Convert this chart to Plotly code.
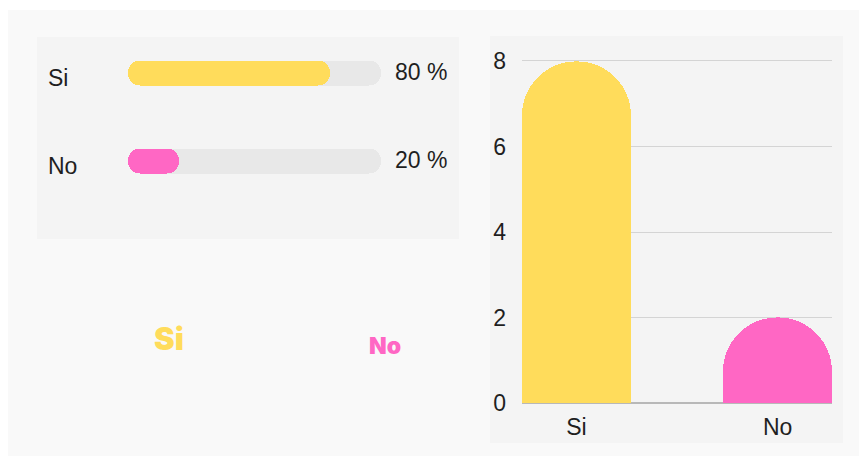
import plotly.graph_objects as go

# Survey answers
categories = ["Si", "No"]
counts = [8, 2]
percents = [80, 20]
colors = ["#FFDC5B", "#FF67C4"]
track = [100, 100]
y_ticks = [0, 2, 4, 6, 8]
y_max = 8.06

W, H = 867, 458
TRACK = "#E8E8E8"
TEXT = "#1F1F1F"
FONT = "Liberation Sans, Arial, sans-serif"
FS = 23


def px(x):
    return x / W


def py(y):
    return 1 - y / H


fig = go.Figure()

# Progress bars (left card): grey track underneath, coloured fill on top.
# An explicit base gives a pill with both ends rounded.
for vals, cols in [(track, [TRACK, TRACK]), (percents, colors)]:
    fig.add_trace(go.Bar(
        y=categories, x=vals, base=[0] * len(vals),
        orientation="h", width=0.284,
        marker=dict(color=cols, cornerradius="50%", line=dict(width=0)),
        xaxis="x", yaxis="y", hoverinfo="skip", showlegend=False,
    ))

# Column chart (right card)
fig.add_trace(go.Bar(
    x=categories, y=counts, width=0.54,
    marker=dict(color=colors, cornerradius="50%", line=dict(width=0)),
    xaxis="x2", yaxis="y2", hoverinfo="skip", showlegend=False,
))

annotations = []
for cat, pct in zip(categories, percents):
    annotations.append(dict(
        x=px(46), y=cat, xref="paper", yref="y", xanchor="left", yanchor="middle",
        text=cat, showarrow=False, yshift=-5, font=dict(family=FONT, size=FS, color=TEXT),
    ))
    annotations.append(dict(
        x=px(393), y=cat, xref="paper", yref="y", xanchor="left", yanchor="middle",
        text=f"{pct} %", showarrow=False, yshift=1, font=dict(family=FONT, size=FS, color=TEXT),
    ))

# Word cloud of the answers
cloud_pos = [(169, 338, 31), (385, 346, 23)]
for cat, col, (cx, cy, size) in zip(categories, colors, cloud_pos):
    annotations.append(dict(
        x=px(cx), y=py(cy), xref="paper", yref="paper", xanchor="center", yanchor="middle",
        text=cat, showarrow=False,
        font=dict(family="Inter, Lato, sans-serif", size=size, color=col, weight=900),
    ))

shapes = [
    dict(type="rect", xref="paper", yref="paper", x0=px(8), x1=px(859), y0=py(456), y1=py(10),
         fillcolor="#F9F9F9", line=dict(width=0), layer="below"),
    dict(type="rect", xref="paper", yref="paper", x0=px(37), x1=px(459), y0=py(239), y1=py(37),
         fillcolor="#F4F4F4", line=dict(width=0), layer="below"),
    dict(type="rect", xref="paper", yref="paper", x0=px(490), x1=px(843), y0=py(443), y1=py(36),
         fillcolor="#F4F4F4", line=dict(width=0), layer="below"),
]

# value 0 sits at y=403 px, value 8 at y=61 px
unit = (403 - 61) / 8
top_px = 403 - unit * y_max

fig.update_layout(
    width=W, height=H,
    margin=dict(l=0, r=0, t=0, b=0, autoexpand=False),
    paper_bgcolor="#FFFFFF", plot_bgcolor="rgba(0,0,0,0)",
    barmode="overlay",
    bargap=0,
    shapes=shapes,
    annotations=annotations,
    font=dict(family=FONT, size=FS, color=TEXT),
    xaxis=dict(domain=[px(128), px(381)], range=[0, 100], visible=False, fixedrange=True),
    yaxis=dict(domain=[py(204.5), py(28.5)], range=[1.5, -0.5], type="category",
               categoryorder="array", categoryarray=categories, visible=False, fixedrange=True),
    xaxis2=dict(domain=[px(522), px(832)], range=[-0.27, 1.27], type="category",
                categoryorder="array", categoryarray=categories, showgrid=False,
                showline=False, zeroline=False, ticks="", anchor="y2",
                tickfont=dict(family=FONT, size=FS, color=TEXT), ticklabelstandoff=8,
                fixedrange=True),
    yaxis2=dict(domain=[py(403), py(top_px)], range=[0, y_max], tickvals=y_ticks, anchor="x2",
                showgrid=True, gridcolor="#D4D4D4", gridwidth=1,
                zeroline=True, zerolinecolor="#B8B8B8", zerolinewidth=1.5,
                showline=False, ticks="", tickfont=dict(family=FONT, size=FS, color=TEXT),
                ticklabelstandoff=15, fixedrange=True),
)

fig.write_html("out.html", config=dict(displayModeBar=False))
